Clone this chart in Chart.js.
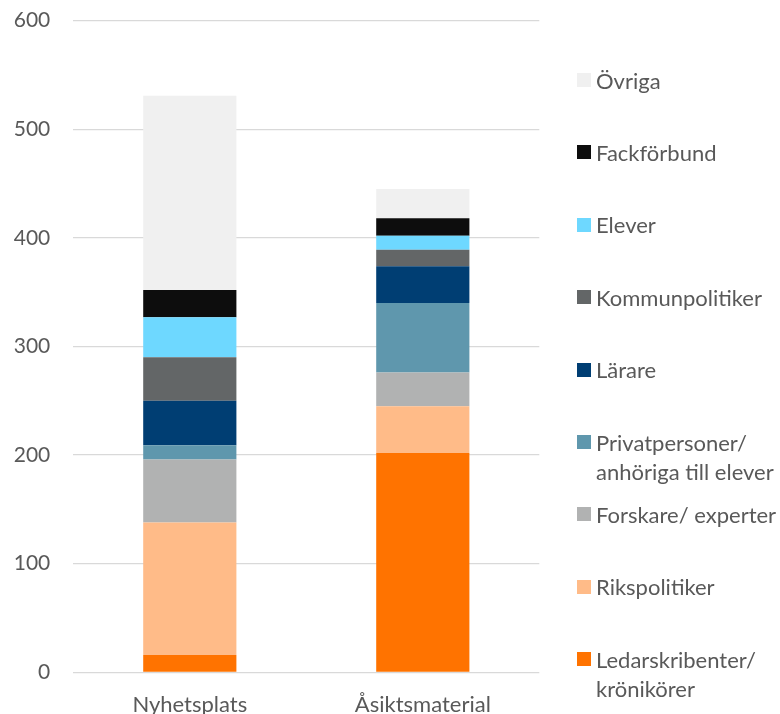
<!DOCTYPE html>
<html>
<head>
<meta charset="utf-8">
<script src="https://cdn.jsdelivr.net/npm/chart.js@4/dist/chart.umd.min.js"></script>
<style>
  html, body { margin: 0; padding: 0; background: #fff; }
  #wrap { position: relative; width: 780px; height: 714px; }
  #legend { position: absolute; left: 0; top: 0; width: 780px; height: 714px; pointer-events: none; }
  .item { position: absolute; left: 577px; font-family: Lato, "Open Sans", sans-serif; font-size: 22px; line-height: 29px; color: #595959; }
  .sw { position: absolute; left: 0; top: 7.5px; width: 14px; height: 14px; }
  .tx { position: absolute; left: 19px; top: 0; white-space: pre; }
</style>
</head>
<body>
<div id="wrap">
  <canvas id="c" width="780" height="714"></canvas>
  <div id="legend"></div>
</div>
<script>
const categories = ['Nyhetsplats', 'Åsiktsmaterial'];
const seriesNames = ['Ledarskribenter/\nkrönikörer', 'Rikspolitiker', 'Forskare/ experter', 'Privatpersoner/\nanhöriga till elever', 'Lärare', 'Kommunpolitiker', 'Elever', 'Fackförbund', 'Övriga'];
const ledarskribenter = [16, 202];
const rikspolitiker = [122, 43];
const forskare = [58, 31];
const privatpersoner = [13, 64];
const larare = [41, 34];
const kommunpolitiker = [40, 15];
const elever = [37, 13];
const fackforbund = [25, 16];
const ovriga = [179, 27];
const seriesColors = ['#FF7300', '#FFBB88', '#B1B2B2', '#5F97AD', '#003E73', '#636667', '#6ED8FF', '#0D0D0D', '#F0F0F0'];
const yTicks = [0, 100, 200, 300, 400, 500, 600];

const seriesValues = [ledarskribenter, rikspolitiker, forskare, privatpersoner, larare, kommunpolitiker, elever, fackforbund, ovriga];

const datasets = seriesValues.map((vals, i) => ({
  label: seriesNames[i],
  data: vals,
  backgroundColor: seriesColors[i],
  borderWidth: 0,
  categoryPercentage: 0.4,
  barPercentage: 1.0
}));

const font = { family: 'Lato, "Open Sans", sans-serif', size: 21 };
const xfont = { family: 'Lato, "Open Sans", sans-serif', size: 22 };

new Chart(document.getElementById('c'), {
  type: 'bar',
  data: { labels: categories, datasets },
  options: {
    responsive: false,
    animation: false,
    devicePixelRatio: 1,
    layout: { padding: { top: 20.7, right: 240.7, left: 0, bottom: 0 } },
    plugins: { legend: { display: false }, tooltip: { enabled: false } },
    scales: {
      x: {
        stacked: true,
        grid: { display: false },
        border: { display: false },
        ticks: { color: '#595959', font: xfont, padding: 11 },
        afterFit: (s) => { s.height = 41.7; s.paddingLeft = 0; s.paddingRight = 0; }
      },
      y: {
        stacked: true,
        min: yTicks[0],
        max: yTicks[yTicks.length - 1],
        afterBuildTicks: (s) => { s.ticks = yTicks.map(v => ({ value: v })); },
        grid: { color: '#D9D9D9', lineWidth: 1.3, drawTicks: false },
        border: { display: false },
        ticks: { color: '#595959', font, padding: 23 },
        afterFit: (s) => { s.width = 73.3; s.paddingTop = 0; s.paddingBottom = 0; }
      }
    }
  }
});

// HTML legend (reverse order, as in the reference)
const legend = document.getElementById('legend');
const order = seriesNames.map((_, i) => i).reverse();
order.forEach((idx, k) => {
  const centerY = 80 + k * 72.4;
  const item = document.createElement('div');
  item.className = 'item';
  item.style.top = (centerY - 14.5) + 'px';
  const sw = document.createElement('span');
  sw.className = 'sw';
  sw.style.background = seriesColors[idx];
  const tx = document.createElement('span');
  tx.className = 'tx';
  tx.textContent = seriesNames[idx];
  item.appendChild(sw);
  item.appendChild(tx);
  legend.appendChild(item);
});
</script>
</body>
</html>
